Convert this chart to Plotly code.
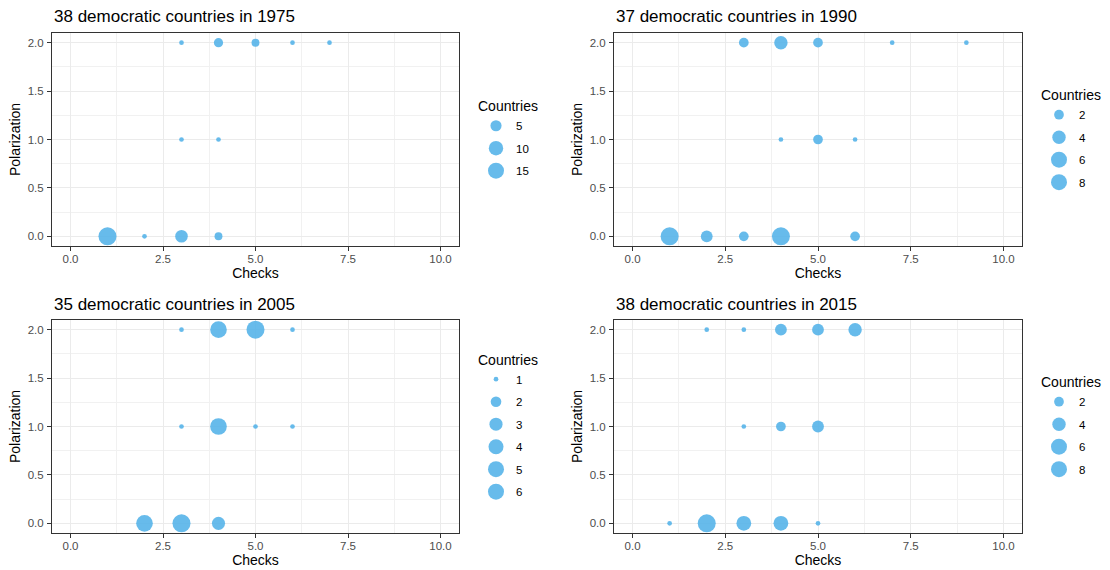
import math
import plotly.graph_objects as go

# ---------------- data ----------------
years = [1975, 1990, 2005, 2015]
titles = ["38 democratic countries in 1975", "37 democratic countries in 1990",
          "35 democratic countries in 2005", "38 democratic countries in 2015"]

checks_1975 = [3, 4, 5, 6, 7, 3, 4, 1, 2, 3, 4]
polar_1975 = [2, 2, 2, 2, 2, 1, 1, 0, 0, 0, 0]
count_1975 = [1, 3, 2, 1, 1, 1, 1, 18, 1, 7, 2]
breaks_1975 = [5, 10, 15]

checks_1990 = [3, 4, 5, 7, 9, 4, 5, 6, 1, 2, 3, 4, 6]
polar_1990 = [2, 2, 2, 2, 2, 1, 1, 1, 0, 0, 0, 0, 0]
count_1990 = [2, 4, 2, 1, 1, 1, 2, 1, 8, 3, 2, 8, 2]
breaks_1990 = [2, 4, 6, 8]

checks_2005 = [3, 4, 5, 6, 3, 4, 5, 6, 2, 3, 4]
polar_2005 = [2, 2, 2, 2, 1, 1, 1, 1, 0, 0, 0]
count_2005 = [1, 5, 6, 1, 1, 5, 1, 1, 5, 6, 3]
breaks_2005 = [1, 2, 3, 4, 5, 6]

checks_2015 = [2, 3, 4, 5, 6, 3, 4, 5, 1, 2, 3, 4, 5]
polar_2015 = [2, 2, 2, 2, 2, 1, 1, 1, 0, 0, 0, 0, 0]
count_2015 = [1, 1, 3, 3, 4, 1, 2, 3, 1, 8, 5, 5, 1]
breaks_2015 = [2, 4, 6, 8]

x_ticks = [0, 2.5, 5, 7.5, 10]
y_ticks = [0, 0.5, 1, 1.5, 2]

panels = [
    (checks_1975, polar_1975, count_1975, breaks_1975),
    (checks_1990, polar_1990, count_1990, breaks_1990),
    (checks_2005, polar_2005, count_2005, breaks_2005),
    (checks_2015, polar_2015, count_2015, breaks_2015),
]

# ---------------- styling ----------------
W, H = 1110, 570
COLOR = "#56B4E9"
FONT = "Liberation Sans, Arial, Helvetica, sans-serif"
# panel boxes in pixels: (left, right, top, bottom)
boxes = [(52, 459, 33, 246), (614, 1022, 33, 246),
         (52, 459, 320, 533), (614, 1022, 320, 533)]
legend_x = [476, 1039, 476, 1039]


def size_scale(n, lo, hi):
    """ggplot2-like area scale, range 1..6, converted to pixel diameter."""
    frac = 0.0 if hi == lo else (n - lo) / (hi - lo)
    s = 1 + 5 * math.sqrt(max(frac, 0.0))
    return 2.0 + 2.67 * s


fig = go.Figure()
layout = dict(
    width=W, height=H,
    margin=dict(l=0, r=0, t=0, b=0),
    paper_bgcolor="white", plot_bgcolor="white",
    font=dict(family=FONT, color="#000000"),
    annotations=[],
)

for i, (cx, py, cnt, brks) in enumerate(panels):
    k = i + 1
    xa = "x" if k == 1 else f"x{k}"
    ya = "y" if k == 1 else f"y{k}"
    leg = "legend" if k == 1 else f"legend{k}"
    lo, hi = min(cnt), max(cnt)
    fig.add_trace(go.Scatter(
        x=cx, y=py, mode="markers",
        marker=dict(size=[size_scale(n, lo, hi) for n in cnt], color=COLOR,
                    opacity=0.9, line=dict(width=0)),
        xaxis=xa, yaxis=ya, showlegend=False,
        hovertemplate="Checks %{x}<br>Polarization %{y}<br>Countries %{text}<extra></extra>",
        text=cnt,
    ))
    for b in brks:
        fig.add_trace(go.Scatter(
            x=[None], y=[None], mode="markers", name=str(b),
            marker=dict(size=size_scale(b, lo, hi), color=COLOR, opacity=0.9,
                        line=dict(width=0)),
            xaxis=xa, yaxis=ya, legend=leg, legendgroup=f"{k}-{b}",
            showlegend=True,
        ))

    l, r, t, btm = boxes[i]
    axis_common = dict(
        showline=True, mirror=True, linecolor="#333333", linewidth=1,
        ticks="outside", ticklen=4, tickcolor="#333333", tickwidth=1,
        tickfont=dict(size=11.5, color="#4D4D4D", family=FONT),
        showgrid=True, gridcolor="#EBEBEB", gridwidth=1.1,
        zeroline=False, tickformat=".1f", automargin=False,
    )
    layout["xaxis" if k == 1 else f"xaxis{k}"] = dict(
        axis_common,
        domain=[l / W, r / W], anchor=ya, range=[-0.5, 10.5],
        tickvals=x_ticks, ticklabelstandoff=-2,
        minor=dict(showgrid=True, gridcolor="#F1F1F1", gridwidth=0.6, dtick=1.25, tick0=0),
        title=dict(text="Checks", font=dict(size=14, family=FONT, color="#000000"), standoff=0),
    )
    layout["yaxis" if k == 1 else f"yaxis{k}"] = dict(
        axis_common,
        domain=[1 - btm / H, 1 - t / H], anchor=xa, range=[-0.1, 2.1],
        tickvals=y_ticks, ticklabelstandoff=1,
        minor=dict(showgrid=True, gridcolor="#F1F1F1", gridwidth=0.6, dtick=0.25, tick0=0),
        title=dict(text="Polarization", font=dict(size=14, family=FONT, color="#000000"), standoff=3),
    )
    layout[leg] = dict(
        x=legend_x[i] / W, xanchor="left",
        y=1 - ((t + btm) / 2) / H, yanchor="middle",
        title=dict(text="Countries", font=dict(size=14, family=FONT, color="#000000")),
        font=dict(size=11.5, family=FONT, color="#000000"),
        itemsizing="trace", tracegroupgap=3.5, bgcolor="rgba(0,0,0,0)",
    )
    layout["annotations"].append(dict(
        text=titles[i], xref="paper", yref="paper",
        x=l / W, xanchor="left", y=1 - (t - 16) / H, yanchor="middle",
        showarrow=False, font=dict(size=17, family=FONT, color="#000000"),
    ))

fig.update_layout(**layout)
fig.write_html(
    "out.html",
    config={"displayModeBar": False},
    post_script="document.body.style.margin='0';document.body.style.overflow='hidden';",
)
